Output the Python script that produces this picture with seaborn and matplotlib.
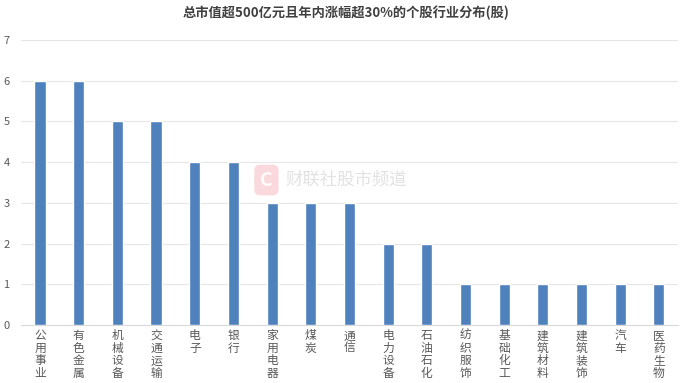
import numpy as np
import pandas as pd
import matplotlib.pyplot as plt
import seaborn as sns

industries = ["公用事业", "有色金属", "机械设备", "交通运输", "电子", "银行", "家用电器", "煤炭",
              "通信", "电力设备", "石油石化", "纺织服饰", "基础化工", "建筑材料", "建筑装饰",
              "汽车", "医药生物"]
counts = [6, 6, 5, 5, 4, 4, 3, 3, 3, 2, 2, 1, 1, 1, 1, 1, 1]
y_ticks = [0, 1, 2, 3, 4, 5, 6, 7]

df = pd.DataFrame({"industry": industries, "count": counts})

sns.set_theme(style="white")
plt.rcParams['font.family'] = ['Noto Sans CJK SC', 'DejaVu Sans']

fig = plt.figure(figsize=(6.92, 3.83), dpi=100)
ax = fig.add_axes([0.030, 0.151, 0.950, 0.745])

# watermark, sits behind the bars
fig.text(0.385, 0.53, "C", ha="center", va="center", fontsize=14, fontweight="bold",
         color="white", alpha=0.95, zorder=0,
         bbox=dict(boxstyle="round,pad=0.3", fc="#FAD9DC", ec="none"))
fig.text(0.412, 0.53, "财联社股市频道", ha="left", va="center", fontsize=12.5,
         color="#E2E2E2", zorder=0)
ax.patch.set_alpha(0)

sns.barplot(data=df, x="industry", y="count", color="#4F81BD", width=0.29,
            saturation=1, ax=ax, zorder=3)

ax.set_ylim(0, 7)
ax.set_yticks(y_ticks)
ax.set_yticklabels([str(v) for v in y_ticks], fontsize=8, color="#595959")
ax.yaxis.grid(True, color="#E6E6E6", linewidth=0.8, zorder=0)
ax.set_xlim(-0.5, len(industries) - 0.5)
ax.set_xticks(range(len(industries)))
ax.set_xticklabels(["\n".join(s) for s in industries], fontsize=8.5, color="#595959",
                   linespacing=0.95, va="top")
ax.tick_params(axis="both", length=0, pad=3)
ax.tick_params(axis="y", pad=8)
ax.set_xlabel("")
ax.set_ylabel("")
for s in ["top", "right", "left"]:
    ax.spines[s].set_visible(False)
ax.spines["bottom"].set_color("#D9D9D9")
ax.spines["bottom"].set_linewidth(0.8)

fig.text(0.5, 0.965, "总市值超500亿元且年内涨幅超30%的个股行业分布(股)", ha="center", va="center",
         fontsize=9.5, fontweight="bold", color="#404040")

fig.savefig("out.png", dpi=100)
